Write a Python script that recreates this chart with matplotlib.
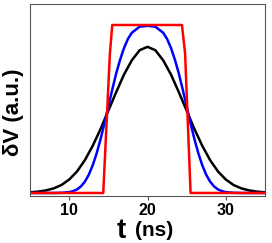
import numpy as np
import matplotlib
matplotlib.use("Agg")
import matplotlib.pyplot as plt

plt.rcParams['font.family'] = ['Liberation Sans', 'DejaVu Sans']

# values (curves are symmetric around t = 20 ns)
center = 20.0
black_dx = [0, 1, 2, 3, 4, 5, 6, 7, 8, 9, 10, 11, 12, 13, 14, 15]
black_v = [0.87, 0.85, 0.79, 0.705, 0.60, 0.49, 0.38, 0.28, 0.195, 0.128,
           0.080, 0.047, 0.027, 0.015, 0.008, 0.004]
blue_dx = [0, 1, 2, 2.5, 3, 3.5, 4, 4.5, 5, 5.5, 6, 6.5, 7, 7.5, 8, 8.5,
           9, 9.5, 10, 11, 12, 15]
blue_v = [0.995, 0.99, 0.954, 0.917, 0.863, 0.793, 0.711, 0.615, 0.515,
          0.414, 0.319, 0.235, 0.164, 0.108, 0.067, 0.039, 0.021, 0.011,
          0.005, 0.001, 0.0, 0.0]
red_t = [5, 14.35, 15.2, 15.5, 24.4, 24.8, 25.5, 35]
red_v = [0, 0, 0.83, 1.0, 1.0, 0.83, 0, 0]


def mirror(dx, v):
    dx = np.array(dx, float)
    v = np.array(v, float)
    t = np.concatenate([center - dx[::-1], center + dx[1:]])
    y = np.concatenate([v[::-1], v[1:]])
    return t, y


W, H = 272, 243
fig = plt.figure(figsize=(W / 100, H / 100), dpi=100)
ax = fig.add_axes([30 / W, 1 - 196 / H, 235 / W, 192 / H])

tb, vb = mirror(black_dx, black_v)
tu, vu = mirror(blue_dx, blue_v)
ax.plot(tb, vb, color='black', lw=1.8)
ax.plot(tu, vu, color='blue', lw=1.8)
ax.plot(red_t, red_v, color='red', lw=1.8)

ax.set_xlim(5, 35)
ax.set_ylim(-0.018, 1.125)
ax.set_xticks([10, 20, 30])
ax.set_yticks([])
ax.tick_params(axis='x', length=3, width=0.8, color='#555555', pad=2)
for lab in ax.get_xticklabels():
    lab.set_fontsize(11.5)
    lab.set_fontweight('bold')
for s in ax.spines.values():
    s.set_color('#555555')
    s.set_linewidth(0.8)

fig.text(14 / W, 1 - 112 / H, 'δV (a.u.)', rotation=90, ha='center',
         va='center', fontsize=16, fontweight='bold')
fig.text(117 / W, 1 - 238 / H, 't', ha='left', va='baseline',
         fontsize=20, fontweight='bold')
fig.text(135 / W, 1 - 236 / H, '(ns)', ha='left', va='baseline',
         fontsize=15, fontweight='bold')

fig.savefig('out.png', dpi=100)
